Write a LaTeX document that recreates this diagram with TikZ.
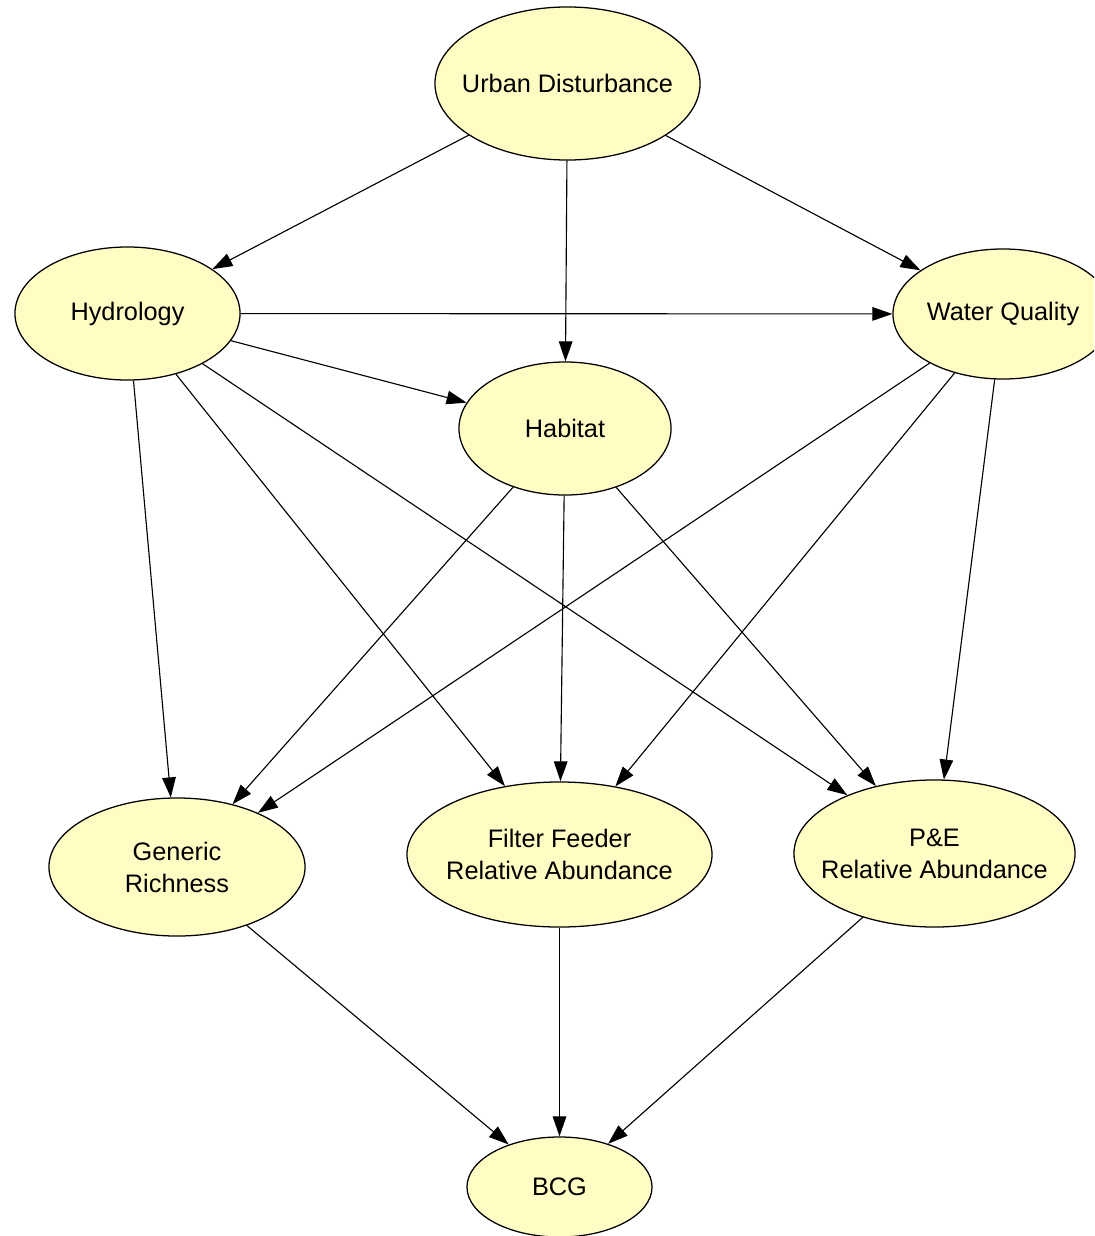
\documentclass[tikz,border=0pt]{standalone}
\usepackage{fontspec}
\setmainfont{Liberation Sans}
\usetikzlibrary{shapes.geometric,arrows.meta}
\definecolor{nodefill}{RGB}{255,253,196}
\begin{document}
\begin{tikzpicture}[x=0.025cm,y=-0.025cm,
  var/.style={ellipse, draw=black, line width=0.9pt, fill=nodefill, inner sep=0pt},
  vtext/.style={inner sep=0pt, align=center, font=\fontsize{18}{22.8}\selectfont},
  link/.style={draw=black, line width=0.8pt, -{Triangle[length=0.5cm,width=0.34cm]}}]
\useasboundingbox (0,0) rectangle (1094,1236);
\clip (0,0) rectangle (1094,1236);
\fill[white] (0,0) rectangle (1094,1236);

% variables of the network
\node[var, minimum width=6.625cm, minimum height=3.825cm] (ud)  at (567.5,83.5)  {};
\node[var, minimum width=5.625cm, minimum height=3.325cm] (hy)  at (127.5,313.5) {};
\node[var, minimum width=5.5cm,   minimum height=3.25cm]  (wq)  at (1003,314)    {};
\node[var, minimum width=5.3cm,   minimum height=3.325cm] (hab) at (565,428.5)   {};
\node[var, minimum width=6.4cm,   minimum height=3.45cm]  (gr)  at (177,867)     {};
\node[var, minimum width=7.625cm, minimum height=3.625cm] (ff)  at (559.5,854.5) {};
\node[var, minimum width=7.025cm, minimum height=3.675cm] (pe)  at (934.5,853.5) {};
\node[var, minimum width=4.625cm, minimum height=2.5cm]   (bcg) at (559.5,1187)  {};

% labels
\node[vtext] (udT)  at (ud)  {Urban Disturbance};
\node[vtext] (hyT)  at (hy)  {Hydrology};
\node[vtext] (wqT)  at (wq)  {Water Quality};
\node[vtext] (habT) at (hab) {Habitat};
\node[vtext] (grT)  at (gr)  {Generic\\Richness};
\node[vtext] (ffT)  at (ff)  {Filter Feeder\\Relative Abundance};
\node[vtext] (peT)  at (pe)  {P\&E\\Relative Abundance};
\node[vtext] (bcgT) at (bcg) {BCG};

% dependencies
\draw[link] (ud) -- (hy);
\draw[link] (ud) -- (hab);
\draw[link] (ud) -- (wq);
\draw[link] (hy) -- (wq);
\draw[link] (hy) -- (hab);
\draw[link] (hy) -- (gr);
\draw[link] (hy) -- (ff);
\draw[link] (hy) -- (pe);
\draw[link] (wq) -- (gr);
\draw[link] (wq) -- (ff);
\draw[link] (wq) -- (pe);
\draw[link] (hab) -- (gr);
\draw[link] (hab) -- (ff);
\draw[link] (hab) -- (pe);
\draw[link] (gr) -- (bcg);
\draw[link] (ff) -- (bcg);
\draw[link] (pe) -- (bcg);
\end{tikzpicture}
\end{document}
